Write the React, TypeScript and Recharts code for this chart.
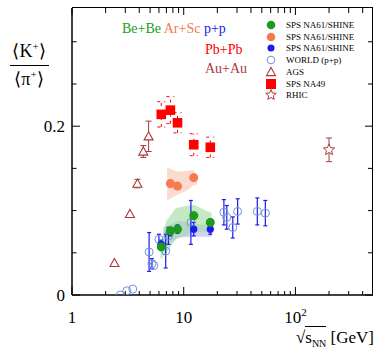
import React from 'react';
import { ComposedChart, XAxis, YAxis, Scatter, Area, ErrorBar } from 'recharts';

const FONT = '"Liberation Serif","Times New Roman",serif';

const C_GREEN = '#1c9c1c';
const C_ORANGE = '#f47b4d';
const C_BLUE = '#1a1aee';
const C_WORLD = '#7390dc';
const C_RED = '#ff0000';
const C_BROWN = '#a83a3a';

const X_DOMAIN = [1, 495];
const Y_DOMAIN = [0, 0.34];
const xTicks = [1, 2, 3, 4, 5, 6, 7, 8, 9, 10, 20, 30, 40, 50, 60, 70, 80, 90, 100, 200, 300, 400];
const xMajor = [1, 10, 100];
const yTicks = [0, 0.05, 0.1, 0.15, 0.2, 0.25, 0.3];
const yMajor = [0, 0.2];

const beBe = [
  { x: 6.3, y: 0.057, err: 0.004 },
  { x: 7.6, y: 0.076, err: 0.004 },
  { x: 8.8, y: 0.078, err: 0.004 },
  { x: 12.3, y: 0.094, err: 0.004 },
  { x: 17.3, y: 0.086, err: 0.004 },
];
const arSc = [
  { x: 7.6, y: 0.132, err: 0.004 },
  { x: 8.8, y: 0.129, err: 0.004 },
  { x: 12.3, y: 0.139, err: 0.004 },
];
const ppNa61 = [
  { x: 6.3, y: 0.060, err: 0.005 },
  { x: 7.6, y: 0.075, err: 0.005 },
  { x: 8.8, y: 0.078, err: 0.005 },
  { x: 12.3, y: 0.078, err: 0.008 },
  { x: 17.3, y: 0.078, err: 0.006 },
];
const worldNoErr = [
  { x: 2.7, y: 0.0 },
  { x: 3.1, y: 0.005 },
  { x: 3.5, y: 0.007 },
  { x: 5.4, y: 0.035 },
];
const worldErr = [
  { x: 4.9, y: 0.051, err: 0.023 },
  { x: 5.2, y: 0.037, err: 0.006 },
  { x: 6.0, y: 0.066, err: 0.006 },
  { x: 6.9, y: 0.052, err: 0.02 },
  { x: 7.3, y: 0.07, err: 0.01 },
  { x: 11.6, y: 0.086, err: 0.026 },
  { x: 22.9, y: 0.098, err: 0.015 },
  { x: 24.3, y: 0.092, err: 0.014 },
  { x: 27.5, y: 0.080, err: 0.0125 },
  { x: 30.4, y: 0.099, err: 0.015 },
  { x: 45.6, y: 0.099, err: 0.016 },
  { x: 53.8, y: 0.097, err: 0.015 },
];
const ags = [
  { x: 2.4, y: 0.038, err: 0.0 },
  { x: 3.3, y: 0.096, err: 0.0 },
  { x: 3.85, y: 0.132, err: 0.005 },
  { x: 4.35, y: 0.170, err: 0.007 },
  { x: 4.85, y: 0.188, err: 0.018 },
];
const na49 = [
  { x: 6.3, y: 0.214, err: 0.015 },
  { x: 7.6, y: 0.219, err: 0.016 },
  { x: 8.8, y: 0.204, err: 0.012 },
  { x: 12.3, y: 0.178, err: 0.013 },
  { x: 17.3, y: 0.175, err: 0.012 },
];
const rhic = [{ x: 200, y: 0.172, err: 0.014 }];

const arScBand = [
  { x: 7.1, band: [0.112, 0.151] },
  { x: 8.9, band: [0.119, 0.146] },
  { x: 10.8, band: [0.124, 0.147] },
  { x: 12.3, band: [0.130, 0.148] },
  { x: 13.3, band: [0.131, 0.133] },
];
const beBeBand = [
  { x: 6.2, band: [0.042, 0.062] },
  { x: 7.0, band: [0.050, 0.088] },
  { x: 8.5, band: [0.066, 0.103] },
  { x: 12.3, band: [0.075, 0.107] },
  { x: 17.8, band: [0.075, 0.097] },
];
const ppBand = [
  { x: 6.6, band: [0.057, 0.080] },
  { x: 9.0, band: [0.068, 0.088] },
  { x: 12.3, band: [0.069, 0.085] },
  { x: 17.8, band: [0.069, 0.081] },
];

const legendRows = [
  { label: 'SPS NA61/SHINE', kind: 'dot', color: C_GREEN, r: 4.3 },
  { label: 'SPS NA61/SHINE', kind: 'dot', color: C_ORANGE, r: 4.3 },
  { label: 'SPS NA61/SHINE', kind: 'dot', color: C_BLUE, r: 3.5 },
  { label: 'WORLD (p+p)', kind: 'ring', color: C_WORLD, r: 3.8 },
  { label: 'AGS', kind: 'tri', color: C_BROWN, r: 4.5 },
  { label: 'SPS NA49', kind: 'sq', color: C_RED, r: 5 },
  { label: 'RHIC', kind: 'star', color: C_BROWN, r: 5.5 },
];

// chart layout
const CHART_W = 376;
const CHART_H = 352;
const MARGIN = { top: 8, right: 3, left: 0, bottom: 0 };
const Y_AXIS_W = 72;
const X_AXIS_H = 57;
const PLOT_W = CHART_W - Y_AXIS_W - MARGIN.right;
const PLOT_H = CHART_H - X_AXIS_H - MARGIN.top;

const starPath = (cx: number, cy: number, R: number) => {
  const r = R * 0.45;
  let d = '';
  for (let i = 0; i < 10; i++) {
    const rad = i % 2 === 0 ? R : r;
    const a = -Math.PI / 2 + (i * Math.PI) / 5;
    d += (i === 0 ? 'M' : 'L') + (cx + rad * Math.cos(a)).toFixed(2) + ',' + (cy + rad * Math.sin(a)).toFixed(2);
  }
  return d + 'Z';
};

const Marker = ({ kind, color, r, cx, cy }: any) => {
  if (kind === 'dot') return <circle cx={cx} cy={cy} r={r} fill={color} />;
  if (kind === 'ring') return <circle cx={cx} cy={cy} r={r} fill="none" stroke={color} strokeWidth={1} />;
  if (kind === 'tri')
    return (
      <path
        d={`M${cx},${cy - r}L${cx + r},${cy + r * 0.8}L${cx - r},${cy + r * 0.8}Z`}
        fill="#fff"
        stroke={color}
        strokeWidth={1.1}
      />
    );
  if (kind === 'sq') return <rect x={cx - r} y={cy - r} width={2 * r} height={2 * r} fill={color} />;
  if (kind === 'star') return <path d={starPath(cx, cy, r)} fill="#fff" stroke={color} strokeWidth={1} />;
  return null;
};

const shape = (kind: string, color: string, r: number) => (p: any) =>
  <Marker kind={kind} color={color} r={r} cx={p.cx} cy={p.cy} />;

// bottom ticks + mirrored top ticks
const XTick = (props: any) => {
  const { x, y, payload } = props;
  const v = payload.value;
  const major = xMajor.includes(v);
  const yTop = y - PLOT_H;
  return (
    <g>
      <path d={`M${x},${y}V${y - (major ? 8 : 4)}M${x},${yTop}V${yTop + (major ? 7 : 5)}`} stroke="#000" strokeWidth={1} fill="none" />
      {major && (
        <text x={x} y={y + 28} textAnchor="middle" fontFamily={FONT} fontSize={17} fill="#000">
          {v === 100 ? (
            <>
              10<tspan dy={-7} fontSize={11}>2</tspan>
            </>
          ) : (
            String(v)
          )}
        </text>
      )}
    </g>
  );
};
// left ticks + mirrored right ticks
const YTick = (props: any) => {
  const { x, y, payload } = props;
  const v = payload.value;
  const major = yMajor.includes(v);
  const xRight = x + PLOT_W;
  return (
    <g>
      <path d={`M${x},${y}H${x + (major ? 8 : 4.5)}M${xRight},${y}H${xRight - (major ? 8 : 5)}`} stroke="#000" strokeWidth={1} fill="none" />
      {major && (
        <text x={x - 7} y={y + 6} textAnchor="end" fontFamily={FONT} fontSize={17} fill="#000">
          {String(v)}
        </text>
      )}
    </g>
  );
};

const abs = (o: any): React.CSSProperties => ({ position: 'absolute', fontFamily: FONT, whiteSpace: 'nowrap', ...o });

export default function App() {
  return (
    <div style={{ position: 'absolute', left: 0, top: 0, width: CHART_W, height: CHART_H, background: '#fff' }}>
      <ComposedChart width={CHART_W} height={CHART_H} margin={MARGIN}>
        <XAxis
          dataKey="x"
          type="number"
          scale="log"
          domain={X_DOMAIN}
          allowDataOverflow
          ticks={xTicks}
          interval={0}
          tickSize={0}
          tickMargin={0}
          height={X_AXIS_H}
          tick={<XTick />}
          axisLine={{ stroke: '#000', strokeWidth: 1.5 }}
          tickLine={false}
        />
        <YAxis
          dataKey="y"
          type="number"
          domain={Y_DOMAIN}
          allowDataOverflow
          ticks={yTicks}
          interval={0}
          tickSize={0}
          tickMargin={0}
          width={Y_AXIS_W}
          tick={<YTick />}
          axisLine={{ stroke: '#000', strokeWidth: 1.5 }}
          tickLine={false}
        />
        <Area data={arScBand} dataKey="band" type="linear" fill="#fbcfbd" fillOpacity={0.75} stroke="none" isAnimationActive={false} />
        <Area data={ppBand} dataKey="band" type="linear" fill="#b4b4f0" fillOpacity={0.6} stroke="none" isAnimationActive={false} />
        <Area data={beBeBand} dataKey="band" type="linear" fill="#9edb9e" fillOpacity={0.6} stroke="none" isAnimationActive={false} />

        <Scatter data={worldNoErr} shape={shape('ring', C_WORLD, 4)} isAnimationActive={false} />
        <Scatter data={worldErr} shape={shape('ring', C_WORLD, 4)} isAnimationActive={false}>
          <ErrorBar dataKey="err" direction="y" width={2} stroke={C_BLUE} strokeWidth={1.2} />
        </Scatter>
        <Scatter data={ppNa61} shape={shape('dot', C_BLUE, 3.6)} isAnimationActive={false}>
          <ErrorBar dataKey="err" direction="y" width={2} stroke={C_BLUE} strokeWidth={1.2} />
        </Scatter>
        <Scatter data={beBe} shape={shape('dot', C_GREEN, 4.5)} isAnimationActive={false}>
          <ErrorBar dataKey="err" direction="y" width={2} stroke="#000" strokeWidth={1} />
        </Scatter>
        <Scatter data={arSc} shape={shape('dot', C_ORANGE, 4.5)} isAnimationActive={false}>
          <ErrorBar dataKey="err" direction="y" width={2} stroke={C_ORANGE} strokeWidth={1} />
        </Scatter>
        <Scatter data={ags} shape={shape('tri', C_BROWN, 4.5)} isAnimationActive={false}>
          <ErrorBar dataKey="err" direction="y" width={3} stroke={C_BROWN} strokeWidth={1} />
        </Scatter>
        <Scatter data={na49} shape={shape('sq', C_RED, 4.8)} isAnimationActive={false}>
          <ErrorBar dataKey="err" direction="y" width={4} stroke={C_RED} strokeWidth={1} strokeDasharray="3 4" />
        </Scatter>
        <Scatter data={rhic} shape={shape('star', C_BROWN, 6)} isAnimationActive={false}>
          <ErrorBar dataKey="err" direction="y" width={3} stroke={C_BROWN} strokeWidth={1} />
        </Scatter>
      </ComposedChart>

      {/* plot frame (top and right edges) */}
      <div
        style={{
          position: 'absolute',
          left: MARGIN.left + Y_AXIS_W,
          top: MARGIN.top - 1,
          width: PLOT_W,
          height: PLOT_H,
          borderTop: '1.5px solid #000',
          borderRight: '1.5px solid #000',
          boxSizing: 'border-box',
          pointerEvents: 'none',
        }}
      />

      {/* Y axis title */}
      <div style={abs({ left: 8, top: 40, width: 42, textAlign: 'center', fontSize: 18, lineHeight: '22px' })}>
        ⟨K<sup style={{ fontSize: 11, verticalAlign: 'baseline', position: 'relative', top: -7 }}>+</sup>⟩
      </div>
      <div style={abs({ left: 10, top: 65, width: 39, borderTop: '1.2px solid #000' })} />
      <div style={abs({ left: 8, top: 68, width: 42, textAlign: 'center', fontSize: 18, lineHeight: '22px' })}>
        ⟨π<sup style={{ fontSize: 11, verticalAlign: 'baseline', position: 'relative', top: -7 }}>+</sup>⟩
      </div>

      {/* X axis title */}
      <div style={abs({ right: 2, top: 328, fontSize: 17, lineHeight: '20px' })}>
        <span>√</span>
        <span style={{ borderTop: '1px solid #000', paddingTop: 1 }}>
          s<sub style={{ fontSize: 10, verticalAlign: 'baseline', position: 'relative', top: 4 }}>NN</sub>
        </span>{' '}
        [GeV]
      </div>

      {/* System labels */}
      <div style={abs({ left: 122, top: 20, fontSize: 14, lineHeight: '18px' })}>
        <span style={{ color: C_GREEN }}>Be+Be</span>{' '}
        <span style={{ color: C_ORANGE }}>Ar+Sc</span>{' '}
        <span style={{ color: C_BLUE }}>p+p</span>
      </div>
      <div style={abs({ left: 205, top: 41, fontSize: 14, lineHeight: '18px', color: C_RED })}>Pb+Pb</div>
      <div style={abs({ left: 205, top: 60, fontSize: 14, lineHeight: '18px', color: C_BROWN })}>Au+Au</div>

      {/* Legend */}
      {legendRows.map((row, i) => (
        <div key={i} style={abs({ left: 264, top: 19 + i * 11.7, height: 12, fontSize: 9, lineHeight: '12px' })}>
          <svg width={14} height={12} style={{ position: 'absolute', left: 0, top: 0, overflow: 'visible' }}>
            <Marker kind={row.kind} color={row.color} r={row.r} cx={7} cy={6} />
          </svg>
          <span style={{ position: 'absolute', left: 22, top: 0 }}>{row.label}</span>
        </div>
      ))}
    </div>
  );
}
